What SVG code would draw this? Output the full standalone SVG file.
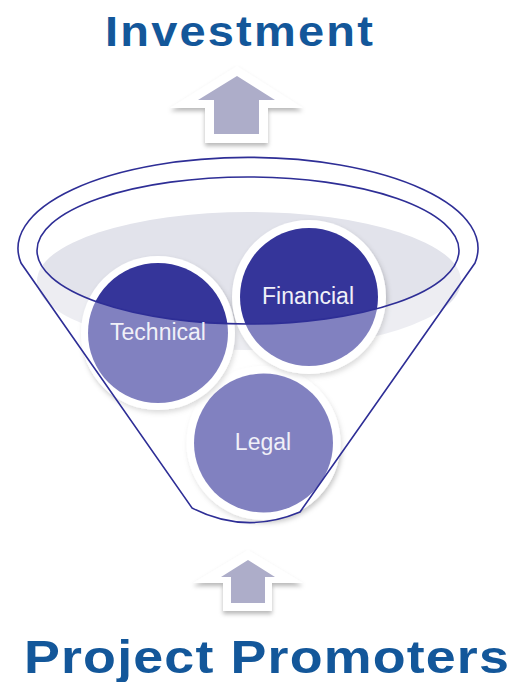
<svg xmlns="http://www.w3.org/2000/svg" width="515" height="682" viewBox="0 0 515 682">
<defs>
<style>
.title{font-family:"Liberation Sans",Arial,sans-serif;font-weight:bold;fill:#13579A;}
.lbl{font-family:"Liberation Sans",Arial,sans-serif;font-size:23px;fill:#F0F0F8;text-anchor:middle;}
.ring{fill:#FFFFFF;}
.disk{fill:#35359A;}
.fun{fill:none;stroke:#2E2E96;stroke-width:1.6;}
.arrowOut{fill:#FFFFFF;}
.arrowIn{fill:#ADADC9;}
</style>
<filter id="sh" x="-20%" y="-20%" width="140%" height="150%">
<feDropShadow dx="1.5" dy="3" stdDeviation="2.5" flood-color="#000" flood-opacity="0.22"/>
</filter>
<filter id="ash" x="-20%" y="-20%" width="140%" height="150%">
<feDropShadow dx="0" dy="3" stdDeviation="2" flood-color="#000" flood-opacity="0.28"/>
</filter>
</defs>
<rect width="515" height="682" fill="#FFFFFF"/>

<g id="title-investment">
<text class="title" x="105" y="46" font-size="43" letter-spacing="2" textLength="270" lengthAdjust="spacingAndGlyphs">Investment</text>
</g>

<g id="arrow-top">
<path class="arrowOut" filter="url(#ash)" d="M237,66 L303,108 L268,108 L268,143 L205,143 L205,108 L170,108 Z"/>
<path class="arrowIn" d="M237,76 L275,100 L259,100 L259,134 L214,134 L214,100 L198,100 Z"/>
</g>

<g id="funnel">
<ellipse cx="249" cy="281" rx="212" ry="69" fill="#E2E3EB"/>
</g>

<g id="node-legal">
<circle class="ring" filter="url(#sh)" cx="263.5" cy="443" r="77"/>
<circle class="disk" cx="263.5" cy="443" r="69.5"/>
</g>
<g id="node-technical">
<circle class="ring" filter="url(#sh)" cx="158" cy="333" r="77"/>
<circle class="disk" cx="158" cy="333" r="70"/>
</g>
<g id="node-financial">
<circle class="ring" filter="url(#sh)" cx="309" cy="297" r="77"/>
<circle class="disk" cx="309" cy="297" r="69"/>
</g>

<g id="funnel-front">
<path fill="#FFFFFF" fill-opacity="0.38" fill-rule="evenodd" d="M21,263 A230,91 0 1 1 475,263 L300,512 Q245,535 192,508 Z M37,250.5 A211,73.5 0 1 0 459,250.5 A211,73.5 0 1 0 37,250.5 Z"/>
<path class="fun" d="M21,263 A230,91 0 1 1 475,263 L300,512 Q245,535 192,508 Z"/>
<ellipse class="fun" cx="248" cy="250.5" rx="211" ry="73.5"/>
</g>

<g id="labels">
<text class="lbl" x="158" y="340">Technical</text>
<text class="lbl" x="308" y="304">Financial</text>
<text class="lbl" x="263" y="450">Legal</text>
</g>

<g id="arrow-bottom">
<path class="arrowOut" filter="url(#ash)" d="M248,550 L303,583 L272,583 L272,611 L223,611 L223,583 L193,583 Z"/>
<path class="arrowIn" d="M248,560 L275,577 L265,577 L265,603 L231,603 L231,577 L221,577 Z"/>
</g>

<g id="title-promoters">
<text class="title" x="24" y="673" font-size="47" letter-spacing="1" textLength="486" lengthAdjust="spacingAndGlyphs">Project Promoters</text>
</g>
</svg>
